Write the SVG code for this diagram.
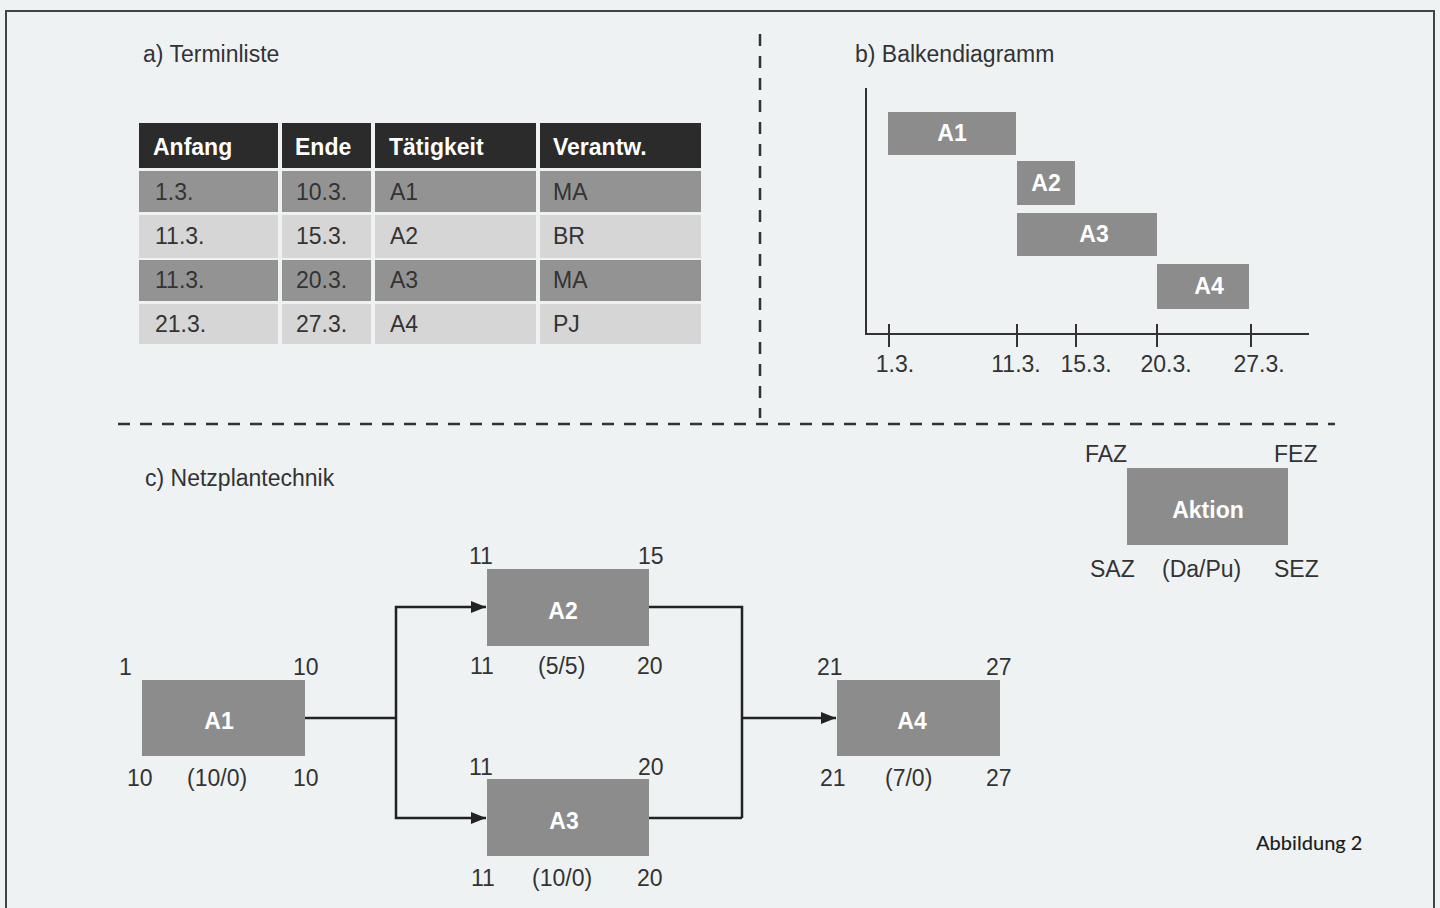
<svg xmlns="http://www.w3.org/2000/svg" width="1440" height="908" viewBox="0 0 1440 908">
<style>
.lbl{font-family:"Liberation Sans",Arial,sans-serif;font-size:23px;fill:#333}
.ttl{font-family:"Liberation Sans",Arial,sans-serif;font-size:23px;fill:#333}
.hd{font-family:"Liberation Sans",Arial,sans-serif;font-size:23px;font-weight:bold;fill:#fff}
.cell{font-family:"Liberation Sans",Arial,sans-serif;font-size:23px;fill:#333}
.box{fill:#8c8c8c}
.bt{font-family:"Liberation Sans",Arial,sans-serif;font-size:23px;font-weight:bold;fill:#fff;text-anchor:middle}
.dash{stroke:#333;stroke-width:2.5;stroke-dasharray:12 10;fill:none}
.ax{stroke:#333;stroke-width:2;fill:none}
.con{stroke:#222;stroke-width:2.5;fill:none}
.dk{fill:#2b2b2b}
.r1{fill:#939393}
.r2{fill:#d6d6d6}
</style>
<defs>
<marker id="arr" markerUnits="userSpaceOnUse" markerWidth="16" markerHeight="14" refX="15" refY="7" orient="auto">
<path d="M0,1 L15,7 L0,13 z" fill="#222"/>
</marker>
</defs>
<rect x="0" y="0" width="1440" height="908" fill="#eef2f3"/>
<path d="M6,908 V11 H1434 V908" fill="none" stroke="#444" stroke-width="2"/>

<!-- dividers -->
<g id="dividers">
<line class="dash" x1="760" y1="34" x2="760" y2="418"/>
<line class="dash" x1="118" y1="424" x2="1335" y2="424"/>
</g>

<!-- a) table -->
<g id="termin-liste">
<text class="ttl" x="143" y="62">a) Terminliste</text>
<rect class="dk" x="139" y="123" width="139" height="45"/>
<rect class="dk" x="282" y="123" width="89" height="45"/>
<rect class="dk" x="375" y="123" width="161" height="45"/>
<rect class="dk" x="540" y="123" width="161" height="45"/>
<text class="hd" x="153" y="155">Anfang</text>
<text class="hd" x="295" y="155">Ende</text>
<text class="hd" x="389" y="155">Tätigkeit</text>
<text class="hd" x="553" y="155">Verantw.</text>

<rect class="r1" x="139" y="171" width="139" height="41"/>
<rect class="r1" x="282" y="171" width="89" height="41"/>
<rect class="r1" x="375" y="171" width="161" height="41"/>
<rect class="r1" x="540" y="171" width="161" height="41"/>
<text class="cell" x="155" y="200">1.3.</text>
<text class="cell" x="296" y="200">10.3.</text>
<text class="cell" x="390" y="200">A1</text>
<text class="cell" x="553" y="200">MA</text>

<rect class="r2" x="139" y="215" width="139" height="43"/>
<rect class="r2" x="282" y="215" width="89" height="43"/>
<rect class="r2" x="375" y="215" width="161" height="43"/>
<rect class="r2" x="540" y="215" width="161" height="43"/>
<text class="cell" x="155" y="244">11.3.</text>
<text class="cell" x="296" y="244">15.3.</text>
<text class="cell" x="390" y="244">A2</text>
<text class="cell" x="553" y="244">BR</text>

<rect class="r1" x="139" y="260" width="139" height="41"/>
<rect class="r1" x="282" y="260" width="89" height="41"/>
<rect class="r1" x="375" y="260" width="161" height="41"/>
<rect class="r1" x="540" y="260" width="161" height="41"/>
<text class="cell" x="155" y="288">11.3.</text>
<text class="cell" x="296" y="288">20.3.</text>
<text class="cell" x="390" y="288">A3</text>
<text class="cell" x="553" y="288">MA</text>

<rect class="r2" x="139" y="304" width="139" height="40"/>
<rect class="r2" x="282" y="304" width="89" height="40"/>
<rect class="r2" x="375" y="304" width="161" height="40"/>
<rect class="r2" x="540" y="304" width="161" height="40"/>
<text class="cell" x="155" y="332">21.3.</text>
<text class="cell" x="296" y="332">27.3.</text>
<text class="cell" x="390" y="332">A4</text>
<text class="cell" x="553" y="332">PJ</text>
</g>

<!-- b) bar chart -->
<g id="balkendiagramm">
<text class="ttl" x="855" y="62">b) Balkendiagramm</text>
<path class="ax" d="M866,88 V334 H1309"/>
<path class="ax" d="M889,324 V347 M1017,324 V347 M1076,324 V347 M1157,324 V347 M1251,324 V347"/>
<text class="lbl" x="895" y="372" text-anchor="middle">1.3.</text>
<text class="lbl" x="1016" y="372" text-anchor="middle">11.3.</text>
<text class="lbl" x="1086" y="372" text-anchor="middle">15.3.</text>
<text class="lbl" x="1166" y="372" text-anchor="middle">20.3.</text>
<text class="lbl" x="1259" y="372" text-anchor="middle">27.3.</text>
</g>
<g id="bar-A1"><rect class="box" x="888" y="112" width="128" height="43"/><text class="bt" x="952" y="141">A1</text></g>
<g id="bar-A2"><rect class="box" x="1017" y="161" width="58" height="44"/><text class="bt" x="1046" y="191">A2</text></g>
<g id="bar-A3"><rect class="box" x="1017" y="213" width="140" height="43"/><text class="bt" x="1094" y="242">A3</text></g>
<g id="bar-A4"><rect class="box" x="1157" y="264" width="92" height="45"/><text class="bt" x="1209" y="294">A4</text></g>

<!-- legend -->
<g id="legend">
<rect class="box" x="1127" y="468" width="161" height="77"/>
<text class="bt" x="1208" y="518">Aktion</text>
<text class="lbl" x="1085" y="462">FAZ</text>
<text class="lbl" x="1274" y="462">FEZ</text>
<text class="lbl" x="1090" y="577">SAZ</text>
<text class="lbl" x="1162" y="577">(Da/Pu)</text>
<text class="lbl" x="1274" y="577">SEZ</text>
</g>

<!-- c) network -->
<text class="ttl" x="145" y="486">c) Netzplantechnik</text>

<g id="connectors">
<path class="con" d="M305,718 H396"/>
<path class="con" d="M396,718 V607 H486" marker-end="url(#arr)"/>
<path class="con" d="M396,718 V818 H486" marker-end="url(#arr)"/>
<path class="con" d="M649,607 H742 V818"/>
<path class="con" d="M649,818 H742"/>
<path class="con" d="M742,718 H836" marker-end="url(#arr)"/>
</g>

<g id="node-A1">
<rect class="box" x="142" y="680" width="163" height="76"/>
<text class="bt" x="219" y="729">A1</text>
<text class="lbl" x="119" y="675">1</text>
<text class="lbl" x="293" y="675">10</text>
<text class="lbl" x="127" y="786">10</text>
<text class="lbl" x="187" y="786">(10/0)</text>
<text class="lbl" x="293" y="786">10</text>
</g>
<g id="node-A2">
<rect class="box" x="487" y="569" width="162" height="77"/>
<text class="bt" x="563" y="619">A2</text>
<text class="lbl" x="469" y="564">11</text>
<text class="lbl" x="638" y="564">15</text>
<text class="lbl" x="470" y="674">11</text>
<text class="lbl" x="538" y="674">(5/5)</text>
<text class="lbl" x="637" y="674">20</text>
</g>
<g id="node-A3">
<rect class="box" x="487" y="779" width="162" height="77"/>
<text class="bt" x="564" y="829">A3</text>
<text class="lbl" x="469" y="775">11</text>
<text class="lbl" x="638" y="775">20</text>
<text class="lbl" x="471" y="886">11</text>
<text class="lbl" x="532" y="886">(10/0)</text>
<text class="lbl" x="637" y="886">20</text>
</g>
<g id="node-A4">
<rect class="box" x="837" y="680" width="163" height="76"/>
<text class="bt" x="912" y="729">A4</text>
<text class="lbl" x="817" y="675">21</text>
<text class="lbl" x="986" y="675">27</text>
<text class="lbl" x="820" y="786">21</text>
<text class="lbl" x="885" y="786">(7/0)</text>
<text class="lbl" x="986" y="786">27</text>
</g>

<text x="1256" y="850" font-family="Lato, 'Open Sans', sans-serif" font-size="20" font-weight="500" fill="#1e1e1e">Abbildung 2</text>
</svg>
